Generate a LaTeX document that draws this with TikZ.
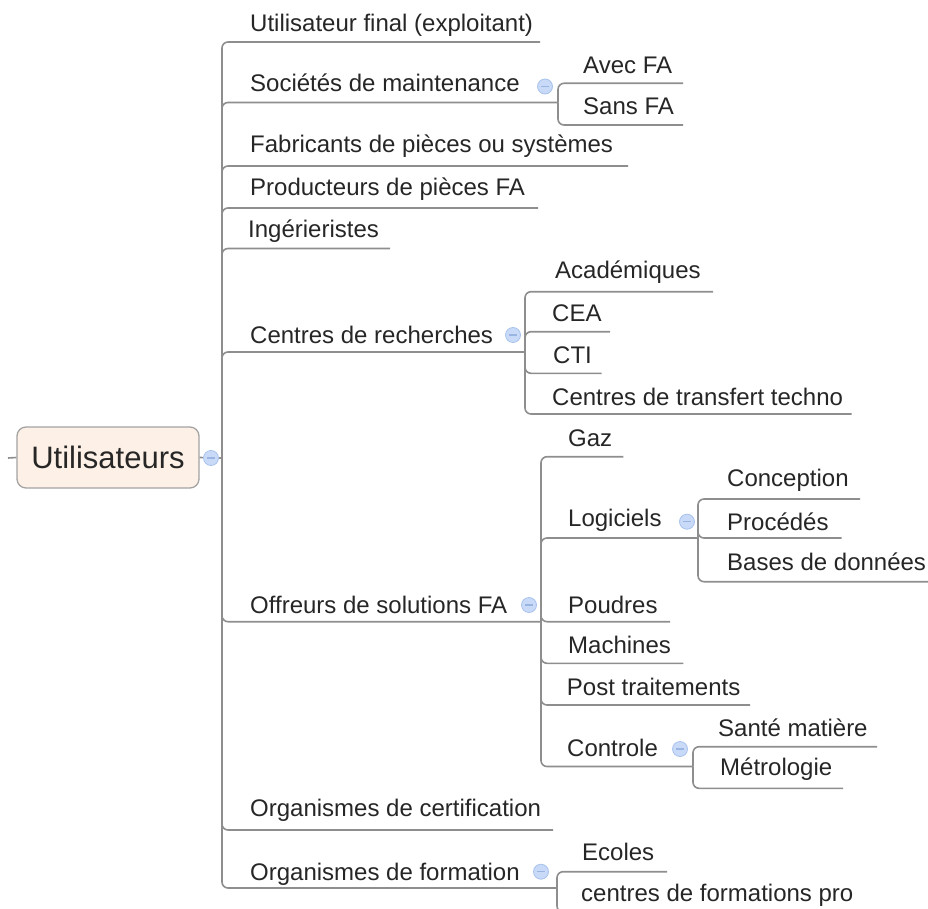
\documentclass[tikz,border=0pt]{standalone}
\usepackage{fontspec}
\setmainfont{Liberation Sans}
\definecolor{linegray}{HTML}{8E8E8E}
\definecolor{txt}{HTML}{262626}
\definecolor{circf}{HTML}{C8DAF7}
\definecolor{circb}{HTML}{A8C2EC}
\definecolor{circm}{HTML}{9BB5E3}
\definecolor{rootfill}{HTML}{FDF0E6}
\definecolor{rootdraw}{HTML}{A3A3A3}
\newcommand\mmkid[6]{%
  \node[lbl] (#1) at (#2,#3) {#6};
  \coordinate (#1-e) at (#5,#4);}
\begin{document}
\begin{tikzpicture}[x=1pt,y=-1pt,
  ln/.style={draw=linegray, line width=1.6pt, rounded corners=6pt},
  lbl/.style={anchor=base west, inner sep=0pt, text=txt, font=\fontsize{24}{28}\selectfont},
  circ/.style={circle, draw=circb, fill=circf, line width=0.8pt, minimum size=15pt, inner sep=0pt,
    path picture={\draw[circm, line width=1.4pt] ([xshift=-4pt]path picture bounding box.center) -- ([xshift=4pt]path picture bounding box.center);}},
  rootbox/.style={rectangle, rounded corners=9pt, draw=rootdraw, fill=rootfill, line width=1.3pt,
    minimum width=182pt, minimum height=61pt, inner sep=0pt, text=txt, font=\fontsize{31}{36}\selectfont}]
\useasboundingbox (0,0) rectangle (928,909);

% root
\node[rootbox] (root) at (108,457.5) {Utilisateurs};
\coordinate (rootj) at (222,458);
\coordinate (stub) at (8,458);

% level 1 and below
\mmkid{uf}{250}{31.5}{42}{540}{Utilisateur final (exploitant)}
\mmkid{soc}{250}{91.7}{102.5}{558}{Sociétés de maintenance}
\mmkid{avec}{583}{73.3}{83.3}{683}{Avec FA}
\mmkid{sans}{583}{115}{125}{683}{Sans FA}
\mmkid{fab}{250}{153}{166}{628}{Fabricants de pièces ou systèmes}
\mmkid{prod}{250}{195.5}{208}{538}{Producteurs de pièces FA}
\mmkid{ing}{248}{237}{248.5}{390}{Ingérieristes}
\mmkid{cdr}{250}{343}{352}{525}{Centres de recherches}
\mmkid{aca}{555}{278.3}{291.7}{713}{Académiques}
\mmkid{cea}{552}{321.7}{331.7}{610}{CEA}
\mmkid{cti}{553}{363.3}{373.3}{601.7}{CTI}
\mmkid{ctt}{552}{405}{414}{851.7}{Centres de transfert techno}
\mmkid{off}{250}{613.3}{621.7}{541}{Offreurs de solutions FA}
\mmkid{gaz}{568}{446.7}{456.7}{623.3}{Gaz}
\mmkid{log}{568}{526.7}{538}{698}{Logiciels}
\mmkid{conc}{727}{486.7}{499}{860}{Conception}
\mmkid{proc}{727}{530}{538}{841.7}{Procédés}
\mmkid{bdd}{727}{570}{581.7}{940}{Bases de données}
\mmkid{pou}{568}{613.3}{621.7}{670}{Poudres}
\mmkid{mac}{568}{653.3}{663.3}{683.3}{Machines}
\mmkid{post}{566.7}{695}{705}{750}{Post traitements}
\mmkid{ctl}{567}{756.7}{766.5}{693}{Controle}
\mmkid{sm}{718}{736.7}{746.7}{877}{Santé matière}
\mmkid{met}{720}{775}{788.3}{843}{Métrologie}
\mmkid{cert}{250}{816.7}{830}{553}{Organismes de certification}
\mmkid{form}{250}{880}{888}{557}{Organismes de formation}
\mmkid{eco}{582}{860}{871.7}{667}{Ecoles}
\mmkid{cfp}{581}{901}{912}{850}{centres de formations pro}

% connectors
\draw[ln] (stub) -- (root.west);
\draw[ln] (root.east) -- (rootj);
\foreach \c in {uf,soc,fab,prod,ing,cdr,off,cert,form} \draw[ln] (rootj) |- (\c-e);
\foreach \c in {avec,sans} \draw[ln] (soc-e) |- (\c-e);
\foreach \c in {aca,cea,cti,ctt} \draw[ln] (cdr-e) |- (\c-e);
\foreach \c in {gaz,log,pou,mac,post,ctl} \draw[ln] (off-e) |- (\c-e);
\foreach \c in {conc,proc,bdd} \draw[ln] (log-e) |- (\c-e);
\foreach \c in {sm,met} \draw[ln] (ctl-e) |- (\c-e);
\foreach \c in {eco,cfp} \draw[ln] (form-e) |- (\c-e);

% collapse markers
\node[circ] (croot) at (211,458) {};
\node[circ] (csoc) at (545,86.5) {};
\node[circ] (ccdr) at (513,335) {};
\node[circ] (coff) at (529,605) {};
\node[circ] (clog) at (687,521.7) {};
\node[circ] (cctl) at (680,749) {};
\node[circ] (cform) at (541,871.7) {};
\end{tikzpicture}
\end{document}
